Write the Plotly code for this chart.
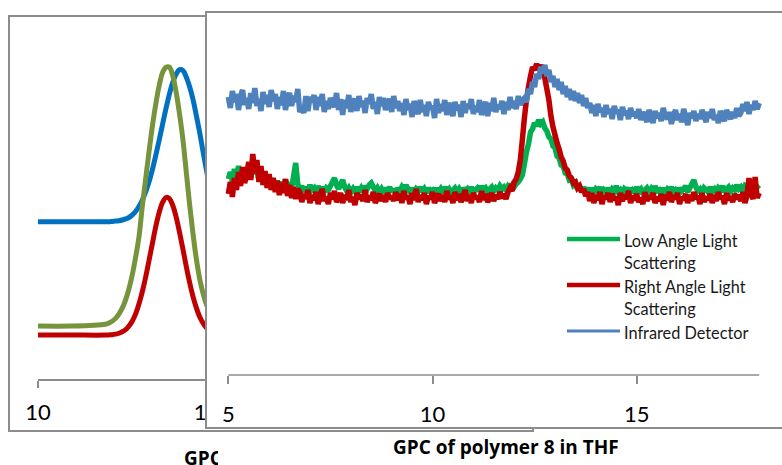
import plotly.graph_objects as go

W, H = 782, 465
FONT = "Lato"
BOLD_FONT = "Open Sans"


def fx(p):
    return p / W


def fy(p):
    return 1 - p / H


# ---------------- back chart (partly hidden) ----------------
back_time = [10.0, 11.0, 12.0, 12.1, 12.2, 12.3, 12.4, 12.5, 12.6, 12.7, 12.8, 12.9,
             13.0, 13.1, 13.2, 13.3, 13.4, 13.5, 13.6, 13.7, 13.8, 13.9,
             14.0, 14.1, 14.2, 14.3, 14.4, 14.5, 14.6, 14.7, 14.8, 14.9,
             15.0, 15.1, 15.2, 15.3, 15.4]
back_ir = [43.3, 43.3, 43.3, 43.3, 43.4, 43.5, 43.6, 43.8, 44.1, 44.5, 45.2, 46.2,
           47.6, 49.4, 51.7, 54.5, 57.9, 61.8, 66.0, 70.3, 74.6, 78.5,
           81.7, 84.0, 85.2, 85.0, 83.2, 80.5, 77.0, 72.5, 67.8, 62.5,
           57.5, 52.5, 48.5, 46.5, 45.0]
back_rals = [12.1, 12.1, 12.1, 12.15, 12.2, 12.35, 12.6, 13.0, 13.6, 14.6, 16.0, 18.0,
             20.8, 24.2, 28.3, 32.9, 37.6, 42.2, 46.0, 48.7, 50.0, 49.7,
             47.8, 44.6, 40.4, 35.8, 31.0, 26.6, 22.7, 19.6, 17.1, 15.4,
             14.1, 13.3, 12.8, 12.5, 12.3]
back_lals = [14.6, 14.6, 15.1, 15.4, 15.9, 16.7, 17.9, 19.5, 21.8, 24.9, 28.8, 33.7,
             39.4, 48.0, 55.5, 63.0, 70.0, 76.0, 81.0, 84.5, 85.9, 85.9,
             83.5, 79.0, 73.0, 66.0, 57.0, 48.0, 40.0, 33.0, 27.5, 23.5,
             20.5, 18.5, 17.2, 16.3, 15.7]

# ---------------- front chart: GPC of polymer 8 in THF ----------------
# elution time grid 5.00 ... 18.00 min, every 0.05 min
front_time = [round(5.0 + 0.05 * j, 2) for j in range(261)]

front_ir = [
    # 5.00 - 6.70
    33.1, 32.0, 33.7, 32.6, 33.4, 31.8, 33.2, 33.8, 32.3, 33.0,
    31.9, 33.5, 32.5, 34.0, 32.2, 32.9, 31.7, 33.6, 32.4, 33.3,
    32.1, 33.8, 32.7, 33.4, 31.9, 33.1, 32.3, 33.7, 31.8, 33.0,
    33.5, 32.2, 33.2, 32.6, 33.9,
    # 6.75 - 9.20
    31.6, 32.0, 31.5, 33.2, 31.7, 33.1, 32.6, 33.3, 31.8, 33.1,
    32.2, 33.4, 31.6, 32.7, 31.9, 33.0, 32.5, 32.1, 33.5, 31.8,
    32.9, 31.3, 32.8, 32.0, 33.3, 31.6, 32.6, 32.9, 31.7, 33.2,
    32.1, 32.7, 31.5, 33.0, 32.4, 33.4, 31.9, 32.6, 31.4, 33.1,
    32.2, 33.0, 31.8, 32.5, 32.9, 31.6, 33.2, 32.0, 32.7, 31.7,
    # 9.25 - 12.20
    32.5, 31.3, 32.9, 31.8, 32.4, 31.1, 32.7, 32.0, 31.4, 32.8,
    31.6, 32.3, 31.2, 32.6, 31.9, 32.2, 31.0, 32.9, 31.5, 32.4,
    31.7, 32.8, 31.3, 32.5, 32.0, 31.2, 32.6, 31.8, 32.3, 31.1,
    32.7, 31.5, 32.4, 31.9, 32.9, 31.4, 32.2, 31.6, 32.8, 31.3,
    32.1, 32.6, 31.2, 32.5, 31.7, 33.0, 31.6, 32.3, 31.9, 32.7,
    31.4, 32.6, 31.8, 33.1, 32.0, 32.7, 31.9, 33.2, 32.3, 32.8,
    # 12.25 - 13.80
    33.0, 32.6, 33.9, 33.4, 34.6, 34.1, 35.4, 34.9, 36.1, 35.5,
    36.3, 35.2, 35.8, 34.6, 35.2, 34.1, 34.9, 33.8, 34.6, 33.4,
    34.2, 33.1, 33.9, 32.8, 33.7, 32.7, 33.5, 32.5, 33.3, 32.2,
    33.0, 32.0,
    # 13.85 - 15.00
    32.5, 31.5, 32.3, 31.2, 32.4, 31.6, 32.0, 31.1, 32.3, 31.4,
    31.9, 30.9, 32.2, 31.5, 31.8, 30.8, 32.1, 31.3, 31.7, 30.9,
    32.0, 31.2, 31.6, 31.0,
    # 15.05 - 17.50
    31.9, 30.8, 31.6, 31.1, 30.6, 31.8, 31.2, 30.5, 31.7, 31.0,
    31.5, 30.7, 32.0, 31.2, 30.9, 31.6, 30.4, 31.3, 31.8, 30.8,
    31.4, 30.6, 31.9, 31.1, 30.3, 31.5, 31.0, 31.7, 30.7, 31.4,
    30.9, 31.8, 31.2, 30.6, 31.6, 31.0, 31.9, 30.8, 31.3, 30.5,
    31.7, 31.1, 30.7, 31.8, 31.3, 30.9, 31.6, 31.0, 32.0, 31.2,
    # 17.55 - 18.00
    31.5, 32.4, 31.7, 32.6, 31.4, 32.3, 31.8, 32.7, 31.9, 32.5,
]

front_rals = [
    # 5.00 - 6.70
    23.4, 24.6, 23.1, 25.0, 23.8, 25.6, 24.2, 26.1, 24.5, 25.3,
    26.6, 24.8, 27.4, 25.5, 26.8, 24.6, 26.2, 24.3, 25.7, 24.0,
    25.4, 23.8, 25.0, 23.6, 24.7, 23.3, 24.5, 23.5, 24.9, 23.2,
    24.3, 23.0, 24.1, 22.9, 23.9,
    # 6.75 - 12.20
    23.6, 22.6, 23.4, 22.9, 23.8, 22.5, 23.3, 22.8, 23.6, 22.4,
    23.2, 23.9, 22.7, 23.1, 22.4, 23.5, 22.9, 23.7, 22.6, 23.0,
    23.5, 22.5, 23.3, 22.8, 23.8, 22.6, 23.1, 22.3, 23.5, 22.9,
    23.3, 22.7, 23.8, 22.6, 23.2, 22.8, 23.6, 22.5, 23.1, 23.4,
    22.7, 23.3, 22.6, 23.5, 22.9, 23.2, 22.7, 23.6, 22.8, 23.4,
    22.5, 23.7, 22.9, 23.2, 22.4, 23.5, 22.8, 23.9, 22.6, 23.3,
    22.8, 23.5, 22.4, 23.2, 22.9, 23.6, 22.5, 23.1, 23.4, 22.7,
    23.3, 22.6, 23.7, 22.9, 23.2, 22.5, 23.6, 22.8, 23.4, 22.6,
    23.1, 23.8, 22.7, 23.3, 22.5, 23.5, 22.9, 23.2, 22.6, 23.7,
    22.8, 23.4, 22.6, 23.0, 23.5, 22.7, 23.3, 22.9, 23.6, 23.0,
    23.4, 22.9, 23.6, 24.0, 23.7, 24.6, 24.9, 25.6, 26.8, 28.8,
    # 12.25 - 13.80
    31.0, 32.8, 34.1, 35.2, 36.1, 35.8, 36.4, 35.9, 36.3, 35.7,
    35.0, 33.9, 32.8, 31.2, 30.1, 29.3, 28.5, 27.9, 27.1, 26.7,
    26.0, 25.8, 25.2, 25.0, 24.5, 24.6, 24.0, 24.2, 23.6, 23.9,
    23.2, 23.6,
    # 13.85 - 18.00
    22.7, 23.5, 22.5, 23.3, 22.8, 23.6, 22.4, 23.2, 22.9, 23.5,
    22.6, 23.4, 22.8, 23.1, 22.3, 23.5, 22.7, 23.3, 22.9, 23.7,
    22.5, 23.2, 22.8, 23.4, 22.6, 23.0, 22.4, 23.6, 22.7, 23.2,
    22.9, 23.5, 22.5, 23.1, 22.7, 23.4, 22.3, 23.3, 22.8, 23.6,
    22.6, 23.2, 22.9, 23.5, 22.4, 23.1, 22.8, 23.4, 22.5, 23.3,
    22.7, 23.6, 22.9, 23.2, 22.4, 23.5, 22.6, 23.1, 22.8, 23.4,
    22.5, 23.3, 22.7, 23.6, 22.9, 23.2, 22.4, 23.5, 22.8, 23.1,
    22.6, 23.4, 22.9, 23.3, 22.7, 23.6, 22.5, 23.2, 25.0, 23.4,
    22.9, 25.1, 23.0, 23.5,
]

front_lals = [
    # 5.00 - 6.70
    24.9, 25.6, 24.6, 25.9, 25.0, 26.2, 25.3, 26.0, 25.1, 25.7,
    25.9, 25.0, 26.4, 25.4, 25.8, 24.8, 25.5, 24.6, 25.2, 24.5,
    25.1, 24.3, 24.9, 24.2, 24.7, 24.1, 24.6, 24.0, 24.8, 24.2,
    24.5, 24.0, 25.2, 26.5, 24.4,
    # 6.75 - 12.20
    23.9, 24.2, 23.6, 24.1, 23.7, 24.3, 23.8, 24.0, 23.5, 24.2,
    23.7, 24.1, 23.6, 24.0, 23.8, 24.2, 24.6, 25.0, 24.3, 23.9,
    24.4, 24.8, 24.1, 23.7, 24.0, 23.6, 23.9, 23.5, 24.1, 23.7,
    24.0, 23.6, 24.2, 23.9, 24.3, 24.5, 24.1, 23.7, 24.0, 23.6,
    23.9, 23.5, 24.0, 23.7, 24.1, 23.6, 23.9, 23.4, 24.0, 23.7,
    24.1, 23.8, 24.3, 23.9, 23.6, 24.0, 23.5, 23.9, 23.7, 24.1,
    23.6, 23.9, 23.5, 24.0, 23.7, 23.8, 23.4, 24.0, 23.6, 23.9,
    23.5, 24.1, 23.7, 23.9, 23.4, 23.8, 24.0, 23.6, 23.9, 23.5,
    24.0, 23.7, 23.9, 23.5, 24.1, 23.6, 23.8, 24.0, 23.7, 24.2,
    23.8, 24.0, 23.6, 23.9, 24.1, 23.7, 24.0, 23.8, 24.2, 23.9,
    24.1, 23.8, 24.2, 24.0, 24.3, 24.1, 24.4, 24.6, 24.9, 25.3,
    # 12.25 - 13.80
    26.4, 27.6, 28.4, 29.6, 29.9, 30.5, 30.2, 30.8, 30.4, 30.6,
    30.0, 29.7, 29.1, 28.9, 28.2, 28.0, 27.2, 27.0, 26.3, 26.2,
    25.5, 25.4, 24.8, 24.9, 24.3, 24.5, 23.9, 24.2, 23.7, 24.1,
    23.6, 24.0,
    # 13.85 - 18.00
    23.6, 24.0, 23.5, 23.9, 23.7, 24.1, 23.4, 23.8, 23.6, 24.0,
    23.5, 23.9, 23.7, 24.2, 23.6, 23.8, 23.4, 23.9, 23.7, 24.0,
    23.5, 23.8, 23.6, 24.1, 23.7, 23.9, 23.4, 23.8, 24.0, 23.6,
    23.9, 23.5, 24.2, 23.7, 23.8, 23.4, 24.0, 23.6, 23.9, 23.7,
    24.1, 23.6, 23.8, 23.5, 24.0, 23.7, 23.9, 24.2, 23.6, 24.0,
    24.4, 24.8, 24.1, 23.7, 23.9, 23.5, 24.0, 23.8, 23.6, 24.1,
    23.7, 23.9, 23.5, 24.0, 23.8, 24.2, 23.6, 23.9, 24.1, 23.7,
    24.0, 23.8, 24.3, 23.9, 24.1, 23.7, 24.2, 24.0, 24.4, 23.9,
    24.2, 23.8, 24.1, 23.9,
]
assert len(front_ir) == len(front_time), len(front_ir)
assert len(front_rals) == len(front_time), len(front_rals)
assert len(front_lals) == len(front_time), len(front_lals)

legend_names = ["Low Angle Light Scattering", "Right Angle Light Scattering", "Infrared Detector"]
front_tick_vals = [5, 10, 15]
back_tick_vals = [10, 15, 20]
title_text = "GPC of polymer 8 in THF"
back_title_text = "GPC"

GRAY = "#8c8c8c"
fig = go.Figure()

# back chart traces
fig.add_trace(go.Scatter(x=back_time, y=back_ir, xaxis="x", yaxis="y", mode="lines",
                         line=dict(color="#0070C0", width=5, shape="spline"), showlegend=False))
fig.add_trace(go.Scatter(x=back_time, y=back_rals, xaxis="x", yaxis="y", mode="lines",
                         line=dict(color="#C00000", width=5, shape="spline"), showlegend=False))
fig.add_trace(go.Scatter(x=back_time, y=back_lals, xaxis="x", yaxis="y", mode="lines",
                         line=dict(color="#77933C", width=5, shape="spline"), showlegend=False))

# front chart traces
fig.add_trace(go.Scatter(x=front_time, y=front_lals, xaxis="x2", yaxis="y2", mode="lines",
                         name=legend_names[0], line=dict(color="#00B050", width=5.5, simplify=False),
                         showlegend=False))
fig.add_trace(go.Scatter(x=front_time, y=front_rals, xaxis="x2", yaxis="y2", mode="lines",
                         name=legend_names[1], line=dict(color="#C00000", width=5.5, simplify=False),
                         showlegend=False))
fig.add_trace(go.Scatter(x=front_time, y=front_ir, xaxis="x2", yaxis="y2", mode="lines",
                         name=legend_names[2], line=dict(color="#4F81BD", width=5.5, simplify=False),
                         showlegend=False))

# title of the back chart, clipped by the front chart
fig.add_trace(go.Scatter(x=[184], y=[5], xaxis="x3", yaxis="y3", mode="text",
                         text=["<b>" + back_title_text + "</b>"], textposition="middle right",
                         textfont=dict(family=BOLD_FONT, size=19, color="black"),
                         cliponaxis=True, showlegend=False, hoverinfo="skip"))

tickfont = dict(family=FONT, size=22, color="black")
fig.update_layout(
    width=W, height=H, margin=dict(l=0, r=0, t=0, b=0, autoexpand=False),
    paper_bgcolor="white", plot_bgcolor="white", showlegend=False,
    xaxis=dict(domain=[fx(38), fx(500)], range=[10, 23.71], anchor="y",
               showline=True, linecolor=GRAY, linewidth=1.5, ticks="outside", ticklen=7,
               tickcolor=GRAY, tickwidth=1.5, tickvals=back_tick_vals, showgrid=False,
               zeroline=False, tickfont=tickfont, ticklabelstandoff=6, automargin=False),
    yaxis=dict(domain=[fy(379), fy(16)], range=[0, 100], visible=False, anchor="x"),
    xaxis2=dict(domain=[fx(206), 1], range=[4.454, 18.558], anchor="free", position=fy(375),
                showline=False, ticks="outside", ticklen=8, tickcolor=GRAY, tickwidth=1.5,
                tickvals=front_tick_vals, showgrid=False, zeroline=False, tickfont=tickfont,
                ticklabelstandoff=12, automargin=False),
    yaxis2=dict(domain=[fy(428), fy(12)], range=[0, 41.6], visible=False, anchor="x2"),
    xaxis3=dict(domain=[0, fx(218)], range=[0, 218], visible=False, anchor="y3"),
    yaxis3=dict(domain=[0, fy(435)], range=[0, 30], visible=False, anchor="x3"),
)

shapes = [
    # back chart frame (below everything, covered by the front chart)
    dict(type="rect", xref="paper", yref="paper", x0=fx(9), x1=fx(533), y0=fy(431), y1=fy(16),
         line=dict(color=GRAY, width=2), fillcolor="rgba(0,0,0,0)", layer="below"),
    # front chart frame
    dict(type="rect", xref="paper", yref="paper", x0=fx(206), x1=fx(800), y0=fy(428), y1=fy(12),
         line=dict(color=GRAY, width=2), fillcolor="rgba(0,0,0,0)", layer="above"),
    # front x axis line spanning the data range
    dict(type="line", xref="x2", yref="paper", x0=5, x1=18, y0=fy(375), y1=fy(375),
         line=dict(color=GRAY, width=1.5), layer="above"),
]

# legend
leg_colors = ["#00B050", "#C00000", "#4F81BD"]
leg_widths = [4.5, 4.5, 3]
leg_rows = [239, 285, 331]
leg_lines = [["Low Angle Light", "Scattering"], ["Right Angle Light", "Scattering"], ["Infrared Detector"]]
annotations = []
for c, w, yr, lines in zip(leg_colors, leg_widths, leg_rows, leg_lines):
    shapes.append(dict(type="line", xref="paper", yref="paper", x0=fx(567), x1=fx(620),
                       y0=fy(yr), y1=fy(yr), line=dict(color=c, width=w), layer="above"))
    for k, t in enumerate(lines):
        annotations.append(dict(text=t, xref="paper", yref="paper", x=fx(622), y=fy(yr + 1 + 22 * k),
                                xanchor="left", yanchor="middle", showarrow=False,
                                font=dict(family=FONT, size=16.3, color="#1a1a1a")))

annotations.append(dict(text="<b>" + title_text + "</b>", xref="paper", yref="paper",
                        x=fx(506), y=fy(447), xanchor="center", yanchor="middle", showarrow=False,
                        font=dict(family=BOLD_FONT, size=19, color="black")))

fig.update_layout(shapes=shapes, annotations=annotations)
fig.write_html("out.html", config={"responsive": False, "displayModeBar": False},
               post_script="document.body.style.margin='0';document.body.style.overflow='hidden';")
